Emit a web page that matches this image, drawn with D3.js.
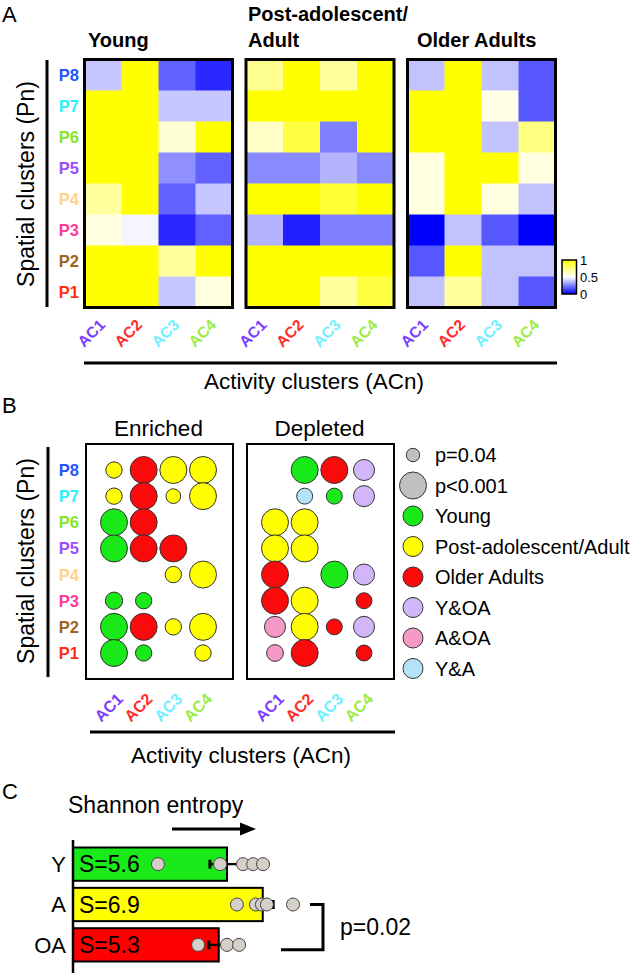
<!DOCTYPE html>
<html><head><meta charset="utf-8">
<script src="https://cdn.jsdelivr.net/npm/d3@7"></script>
<style>body{margin:0;background:#fff}svg{display:block;font-family:"Liberation Sans",Arial,Helvetica,sans-serif}</style>
</head><body><svg id="c" width="633" height="973"></svg>
<script>
// ---------- DATA ----------
const rows = ["P8","P7","P6","P5","P4","P3","P2","P1"];
const acs = ["AC1","AC2","AC3","AC4"];
const ageTitles = [["Young"],["Post-adolescent/","Adult"],["Older Adults"]];
const rowColors = ["#1f55ff","#2ef0fa","#86e626","#9b4dff","#ffd38a","#ff3a99","#a0621e","#ff2e12"];
const acColors = ["#7a3cff","#ff2a2a","#6ff0ff","#99ec44"];

// heatmap values (rows P8..P1, cols AC1..AC4), 0..1
const youngValues = [
  [0.39,1,0.19,0.08],[1,1,0.39,0.39],[1,1,0.58,1],[1,1,0.28,0.19],
  [0.69,1,0.19,0.39],[0.56,0.48,0.08,0.19],[1,1,0.69,1],[1,1,0.39,0.56]];
const adultValues = [
  [0.72,1,0.69,1],[1,1,1,1],[0.61,0.87,0.25,1],[0.27,0.27,0.35,0.27],
  [1,1,0.9,1],[0.35,0.06,0.25,0.25],[1,1,1,1],[1,1,0.69,0.87]];
const olderValues = [
  [0.38,1,0.38,0.17],[1,1,0.545,0.17],[1,1,0.38,0.75],[0.56,1,1,0.56],
  [0.56,1,0.56,0.38],[0,0.38,0.17,0],[0.17,1,0.38,0.38],[0.38,0.69,0.38,0.17]];
const colorbarTicks = [0,0.5,1];

// panel B: group per cell and p-value
const groupKeys = ["Y","A","OA","YOA","AOA","YA"];
const groupNames = ["Young","Post-adolescent/Adult","Older Adults","Y&OA","A&OA","Y&A"];
const groupColors = ["#19e819","#ffff00","#fa0a0a","#d3b5fa","#f59ac6","#b4e3f7"];
const enrichedGroups = [
  ["A","OA","A","A"],["A","OA","A","A"],["Y","OA",null,null],["Y","OA","OA",null],
  [null,null,"A","A"],["Y","Y",null,null],["Y","OA","A","A"],["Y","Y",null,"A"]];
const enrichedP = [
  [0.018,0.001,0.001,0.001],[0.018,0.001,0.028,0.001],[0.001,0.001,null,null],[0.001,0.001,0.001,null],
  [null,null,0.018,0.001],[0.014,0.018,null,null],[0.001,0.001,0.018,0.001],[0.001,0.018,null,0.018]];
const depletedGroups = [
  [null,"Y","OA","YOA"],[null,"YA","Y","YOA"],["A","A",null,null],["A","A",null,null],
  ["OA",null,"Y","YOA"],["OA","A",null,"OA"],["AOA","A","OA","YOA"],["AOA","OA",null,"OA"]];
const depletedP = [
  [null,0.001,0.001,0.005],[null,0.02,0.02,0.005],[0.001,0.001,null,null],[0.001,0.001,null,null],
  [0.001,null,0.001,0.005],[0.001,0.001,null,0.02],[0.005,0.001,0.02,0.005],[0.016,0.001,null,0.02]];
const pLegend = [{label:"p=0.04",p:0.04},{label:"p<0.001",p:0.001}];

// panel C
const cGroups = ["Y","A","OA"];
const cMeans = [5.6,6.9,5.3];
const cSems = [0.62,0.38,0.36];
const cColors = ["#1aea1a","#ffff00","#ff0000"];
const cDots = [[3.09,5.35,6.18,6.55,6.91],[5.96,6.65,6.87,7.05,8.0],[4.55,5.6,6.04]];

// ---------- DRAW ----------
const svg = d3.select("#c");
const txt = (x,y,s,size,opts={}) => {
  const t = svg.append("text").attr("x",x).attr("y",y).text(s).style("font-size",size+"px");
  if (opts.anchor) t.attr("text-anchor",opts.anchor);
  if (opts.bold) t.style("font-weight","bold");
  if (opts.fill) t.attr("fill",opts.fill);
  return t;
};

// Panel letters
txt(2,22,"A",22); txt(2,413,"B",22); txt(2,799,"C",22);

// ---------- Panel A ----------
const heatColor = d3.scaleLinear().domain([0,0.5,1]).range(["#0000ff","#ffffff","#ffff00"]);
const hmX = d3.scaleBand().domain(acs).range([0,148]);
const hmY = d3.scaleBand().domain(rows).range([59.5,307.5]);
const panelsA = [youngValues, adultValues, olderValues];
const titleX = [88,248,417];
panelsA.forEach((vals,i) => {
  const x0 = 84.5 + i*161.5;
  const g = svg.append("g").attr("transform",`translate(${x0},0)`);
  const cells = [];
  vals.forEach((r,ri) => r.forEach((v,ci) => cells.push({r:rows[ri],c:acs[ci],v})));
  g.selectAll("rect.cell").data(cells).join("rect")
    .attr("x",d=>hmX(d.c)).attr("y",d=>hmY(d.r))
    .attr("width",hmX.bandwidth()+0.5).attr("height",hmY.bandwidth()+0.5)
    .attr("fill",d=>heatColor(d.v));
  g.append("rect").attr("x",0).attr("y",59.5).attr("width",148).attr("height",248)
    .attr("fill","none").attr("stroke","#000").attr("stroke-width",3);
  g.selectAll("text.xl").data(acs).join("text")
    .attr("transform",d=>`translate(${hmX(d)+hmX.bandwidth()/2+3},326) rotate(-45)`)
    .attr("text-anchor","end").style("font-size","15.5px").style("font-weight","bold")
    .attr("fill",(d,j)=>acColors[j]).text(d=>d);
  ageTitles[i].forEach((line,li) => {
    const n = ageTitles[i].length;
    txt(titleX[i], 47 - (n-1-li)*26, line, 20, {bold:true});
  });
});
// Y axis labels A
svg.append("line").attr("x1",47).attr("x2",47).attr("y1",60).attr("y2",307).attr("stroke","#000").attr("stroke-width",3);
svg.selectAll("text.pA").data(rows).join("text")
  .attr("x",79).attr("y",d=>hmY(d)+hmY.bandwidth()/2).attr("dy","0.36em")
  .attr("text-anchor","end").style("font-size","16.5px").style("font-weight","bold")
  .attr("fill",(d,i)=>rowColors[i]).text(d=>d);
svg.append("text").attr("transform","translate(34,184) rotate(-90)").attr("text-anchor","middle")
  .style("font-size","23px").text("Spatial clusters (Pn)");
svg.append("line").attr("x1",84).attr("x2",557).attr("y1",363).attr("y2",363).attr("stroke","#000").attr("stroke-width",3);
txt(314,389,"Activity clusters (ACn)",22.5,{anchor:"middle"});

// colorbar
const defs = svg.append("defs");
const grad = defs.append("linearGradient").attr("id","cb").attr("x1",0).attr("x2",0).attr("y1",1).attr("y2",0);
colorbarTicks.forEach(t => grad.append("stop").attr("offset",t).attr("stop-color",heatColor(t)));
const cbY = d3.scaleLinear().domain([0,1]).range([294,260]);
svg.append("rect").attr("x",562).attr("y",cbY(1)).attr("width",14.5).attr("height",cbY(0)-cbY(1))
  .attr("fill","url(#cb)").attr("stroke","#000").attr("stroke-width",1.5);
svg.selectAll("text.cbt").data(colorbarTicks).join("text")
  .attr("x",580).attr("y",d=>cbY(d)).attr("dy","0.36em").style("font-size","13px")
  .text(d=>d3.format("")(d));

// ---------- Panel B ----------
const bY = d3.scalePoint().domain(rows).range([470,653]);
const bX = d3.scalePoint().domain(acs).range([0,89]);
const rScale = d3.scaleLinear().domain([-Math.log10(0.04),3]).range([6.7,13.5]);
const gColor = d3.scaleOrdinal().domain(groupKeys).range(groupColors);
const panelsB = [
  {title:"Enriched", gx:114, groups:enrichedGroups, ps:enrichedP},
  {title:"Depleted", gx:275, groups:depletedGroups, ps:depletedP}];
panelsB.forEach(pb => {
  const g = svg.append("g").attr("transform",`translate(${pb.gx},0)`);
  g.append("rect").attr("x",-28).attr("y",444).attr("width",147).attr("height",235)
    .attr("fill","none").attr("stroke","#000").attr("stroke-width",2);
  const pts = [];
  pb.groups.forEach((r,ri) => r.forEach((gk,ci) => { if (gk) pts.push({r:rows[ri],c:acs[ci],g:gk,p:pb.ps[ri][ci]}); }));
  g.selectAll("circle").data(pts).join("circle")
    .attr("cx",d=>bX(d.c)).attr("cy",d=>bY(d.r)).attr("r",d=>rScale(-Math.log10(d.p)))
    .attr("fill",d=>gColor(d.g)).attr("stroke","#333").attr("stroke-width",1);
  g.append("text").attr("x",44.5).attr("y",436).attr("text-anchor","middle").style("font-size","22.5px").text(pb.title);
  g.selectAll("text.xl").data(acs).join("text")
    .attr("transform",d=>`translate(${bX(d)+10},700) rotate(-45)`)
    .attr("text-anchor","end").style("font-size","16px").style("font-weight","bold")
    .attr("fill",(d,j)=>acColors[j]).text(d=>d);
});
svg.append("line").attr("x1",48).attr("x2",48).attr("y1",447).attr("y2",677).attr("stroke","#000").attr("stroke-width",3);
svg.selectAll("text.pB").data(rows).join("text")
  .attr("x",79).attr("y",d=>bY(d)).attr("dy","0.36em")
  .attr("text-anchor","end").style("font-size","16.5px").style("font-weight","bold")
  .attr("fill",(d,i)=>rowColors[i]).text(d=>d);
svg.append("text").attr("transform","translate(34,561) rotate(-90)").attr("text-anchor","middle")
  .style("font-size","23px").text("Spatial clusters (Pn)");
svg.append("line").attr("x1",90).attr("x2",395).attr("y1",732).attr("y2",732).attr("stroke","#000").attr("stroke-width",3);
txt(241,763,"Activity clusters (ACn)",22.5,{anchor:"middle"});

// legend
const legItems = pLegend.map(d=>({label:d.label, r:rScale(-Math.log10(d.p)), fill:"#c0c0c0"}))
  .concat(groupNames.map((n,i)=>({label:n, r:10, fill:groupColors[i]})));
const legY = d3.scalePoint().domain(d3.range(legItems.length)).range([455,668.5]);
const lg = svg.append("g");
lg.selectAll("circle").data(legItems).join("circle")
  .attr("cx",413).attr("cy",(d,i)=>legY(i)).attr("r",d=>d.r)
  .attr("fill",d=>d.fill).attr("stroke","#333").attr("stroke-width",1);
lg.selectAll("text").data(legItems).join("text")
  .attr("x",435).attr("y",(d,i)=>legY(i)).attr("dy","0.36em").style("font-size","20px").text(d=>d.label);

// ---------- Panel C ----------
const cX = d3.scaleLinear().domain([0,10]).range([73,348]);
const cY = d3.scaleBand().domain(cGroups).range([847.5,961.5]).paddingInner(0.175);
const cc = g => cY(g)+cY.bandwidth()/2;
txt(68,813,"Shannon entropy",23);
svg.append("line").attr("x1",172).attr("x2",244).attr("y1",829).attr("y2",829).attr("stroke","#000").attr("stroke-width",3);
svg.append("path").attr("d","M240,822.5L256,829L240,835.5Z").attr("fill","#000");
const bars = cGroups.map((g,i)=>({g,m:cMeans[i],s:cSems[i],c:cColors[i],dots:cDots[i]}));
svg.selectAll("rect.bar").data(bars).join("rect")
  .attr("x",cX(0)).attr("y",d=>cY(d.g)).attr("width",d=>cX(d.m)-cX(0)).attr("height",cY.bandwidth())
  .attr("fill",d=>d.c).attr("stroke","#000").attr("stroke-width",2);
svg.append("line").attr("x1",73).attr("x2",73).attr("y1",840).attr("y2",973).attr("stroke","#000").attr("stroke-width",2.5);
const eb = svg.append("g").attr("stroke","#000").attr("stroke-width",2.2);
bars.forEach(d => {
  const y = cc(d.g);
  eb.append("line").attr("x1",cX(d.m-d.s)).attr("x2",cX(d.m+d.s)).attr("y1",y).attr("y2",y);
  [d.m-d.s,d.m+d.s].forEach(v => eb.append("line").attr("x1",cX(v)).attr("x2",cX(v)).attr("y1",y-4.5).attr("y2",y+4.5).attr("stroke-width",3));
});
bars.forEach(d => {
  svg.selectAll(null).data(d.dots).join("circle")
    .attr("cx",v=>cX(v)).attr("cy",cc(d.g)).attr("r",6.5)
    .attr("fill","#d4d0c8").attr("stroke","#444").attr("stroke-width",1);
});
svg.selectAll("text.sl").data(bars).join("text")
  .attr("x",79).attr("y",d=>cc(d.g)).attr("dy","0.36em").style("font-size","23px")
  .text(d=>"S="+d.m.toFixed(1));
svg.selectAll("text.gl").data(bars).join("text")
  .attr("x",66).attr("y",d=>cc(d.g)).attr("dy","0.36em").attr("text-anchor","end").style("font-size","22px")
  .text(d=>d.g);
const yTop = cc("A"), yBot = cc("OA")+5;
svg.append("path").attr("d",`M310,${yTop}H323V${yBot}H281`).attr("fill","none").attr("stroke","#000").attr("stroke-width",3);
txt(340,(yTop+yBot)/2,"p=0.02",23).attr("dy","0.36em");
</script></body></html>
